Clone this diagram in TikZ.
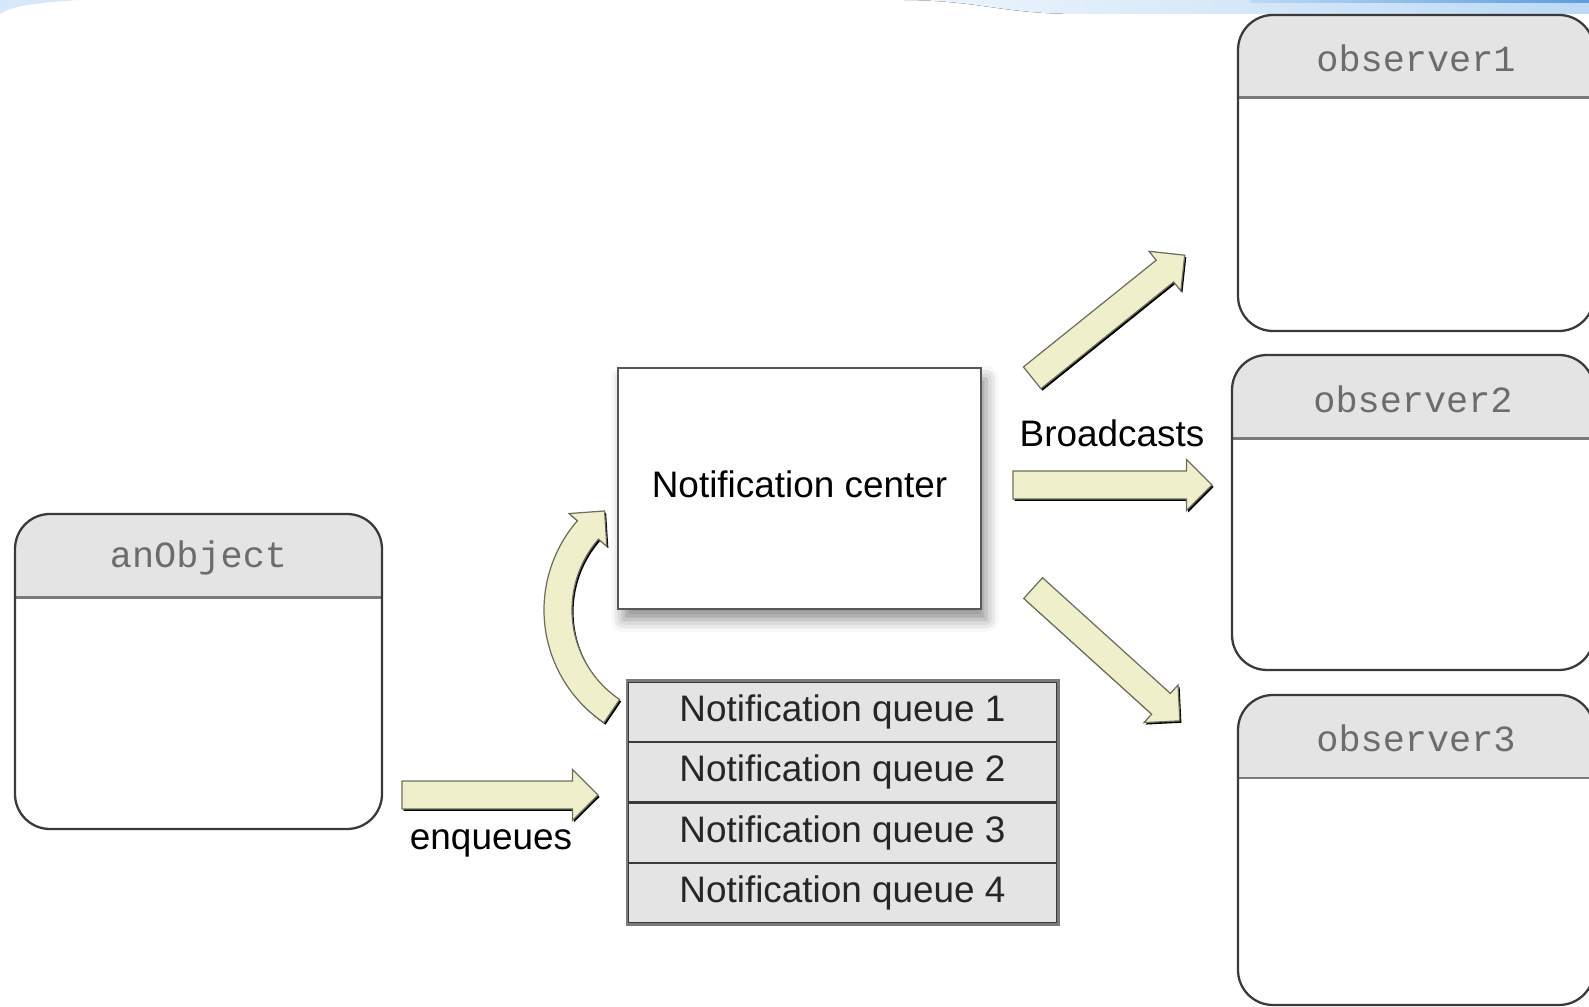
\documentclass[tikz,border=0pt]{standalone}
\usepackage{fontspec}
\setmainfont{Liberation Sans}
\setmonofont{Liberation Mono}
\usetikzlibrary{shapes.arrows,shadows,shadows.blur,calc}

\definecolor{headgray}{HTML}{E4E4E4}
\definecolor{framegray}{HTML}{3A3A3A}
\definecolor{divgray}{HTML}{7A7A7A}
\definecolor{titlegray}{HTML}{6C6C6C}
\definecolor{arrowfill}{HTML}{EFEFCC}
\definecolor{arrowedge}{HTML}{6E6E5E}
\definecolor{skyblue}{HTML}{BCD9F5}
\definecolor{deepblue}{HTML}{5C9BDD}

\begin{document}
\begin{tikzpicture}[x=0.02cm, y=0.02cm,
  objframe/.style={draw=framegray, line width=1.3pt, rounded corners=0.7cm},
  objtitle/.style={font=\fontsize{21}{24}\selectfont\ttfamily, text=titlegray},
  lbltext/.style={font=\fontsize{21}{24}\selectfont},
  queuerow/.style={draw=framegray, line width=1.2pt, fill=headgray, minimum width=8.58cm, minimum height=1.205cm, inner sep=0pt, lbltext, text=black!85},
  arrowshape/.style={draw=arrowedge, fill=arrowfill, line width=0.7pt, drop shadow={shadow xshift=0.9pt, shadow yshift=-1.1pt, opacity=1, fill=black}},
  blockarrow/.style={arrowshape, single arrow, single arrow head extend=6.5pt, single arrow tip angle=90, inner sep=7.6pt}
]
\useasboundingbox (0,0) rectangle (1589,1007);
\clip (0,0) rectangle (1589,1007);
%\draw [very thin, color = gray](0, 0) grid[step=100] (1589, 1007);

% band at the top
\fill[left color=skyblue!25, right color=skyblue] (900,1007) .. controls (980,1007) and (1000,993) .. (1080,993) -- (1589,993) -- (1589,1007) -- cycle;
\fill[left color=skyblue, right color=deepblue] (1250,1004) rectangle (1589,1007);
\fill[skyblue!60] (0,1007) -- (80,1007) .. controls (30,1004) and (10,1000) .. (0,993) -- cycle;

% objects
\foreach \xa/\ya/\xb/\yb/\yd/\nm/\txt in {15/178/382/493/409/anobj/anObject, 1238/676/1594/992/909/obs1/observer1, 1232/337/1594/652/568/obs2/observer2, 1238/2/1594/312/229/obs3/observer3}
{
  \begin{scope}
  \clip[rounded corners=0.7cm] (\xa,\ya) rectangle (\xb,\yb);
  \fill[headgray] (\xa,\yd) rectangle (\xb,\yb);
  \end{scope}
  \draw[divgray, line width=1.7pt] (\xa,\yd) -- (\xb,\yd);
  \draw[objframe] (\xa,\ya) rectangle (\xb,\yb);
  \node[objtitle] (\nm) at ({(\xa+\xb)/2},{(\yd+\yb)/2-2}) {\txt};
}

% notification center
\node[draw=framegray!85, line width=1.5pt, fill=white, minimum width=7.26cm, minimum height=4.82cm, lbltext,
  blur shadow={shadow xshift=3pt, shadow yshift=-6pt, shadow blur radius=7pt, shadow opacity=45}] (nc) at (799.5,518.5) {\raisebox{5pt}{Notification center}};

% queues
\foreach \i in {1,...,4}
  \node[queuerow] (q\i) at (842.5,{325-60.25*(\i-0.5)}) {Notification queue \i};
\draw[divgray, line width=1.7pt] (q1.north west) rectangle (q4.south east);

% arrows
\coordinate (enqS) at (395,212);
\coordinate (enqE) at (591,212);
\coordinate (bcS1) at (1026.5,624.6);
\coordinate (bcE1) at (1179.5,747.6);
\coordinate (bcS2) at (1006,522);
\coordinate (bcE2) at (1205,522);
\coordinate (bcS3) at (1027.8,423.7);
\coordinate (bcE3) at (1174.8,290.7);
\foreach \a/\b in {enqS/enqE, bcS1/bcE1, bcS2/bcE2, bcS3/bcE3}
  \path let \p1 = ($(\b)-(\a)$), \n1 = {veclen(\x1,\y1)} in (\a) -- node[blockarrow, sloped, minimum height=\n1] {} (\b);

\coordinate (loopc) at (680,397);
\path[arrowshape] ([shift={(236:136)}]loopc) arc[start angle=236, end angle=139, radius=136]
  -- ([shift={(139:147)}]loopc) -- ([shift={(127.3:124.5)}]loopc) -- ([shift={(139:97)}]loopc)
  -- ([shift={(139:108)}]loopc) arc[start angle=139, end angle=236, radius=108] -- cycle;

\node[lbltext] (enq) at (491,164) {enqueues};
\node[lbltext] (bc) at (1112,574) {Broadcasts};
\end{tikzpicture}
\end{document}
